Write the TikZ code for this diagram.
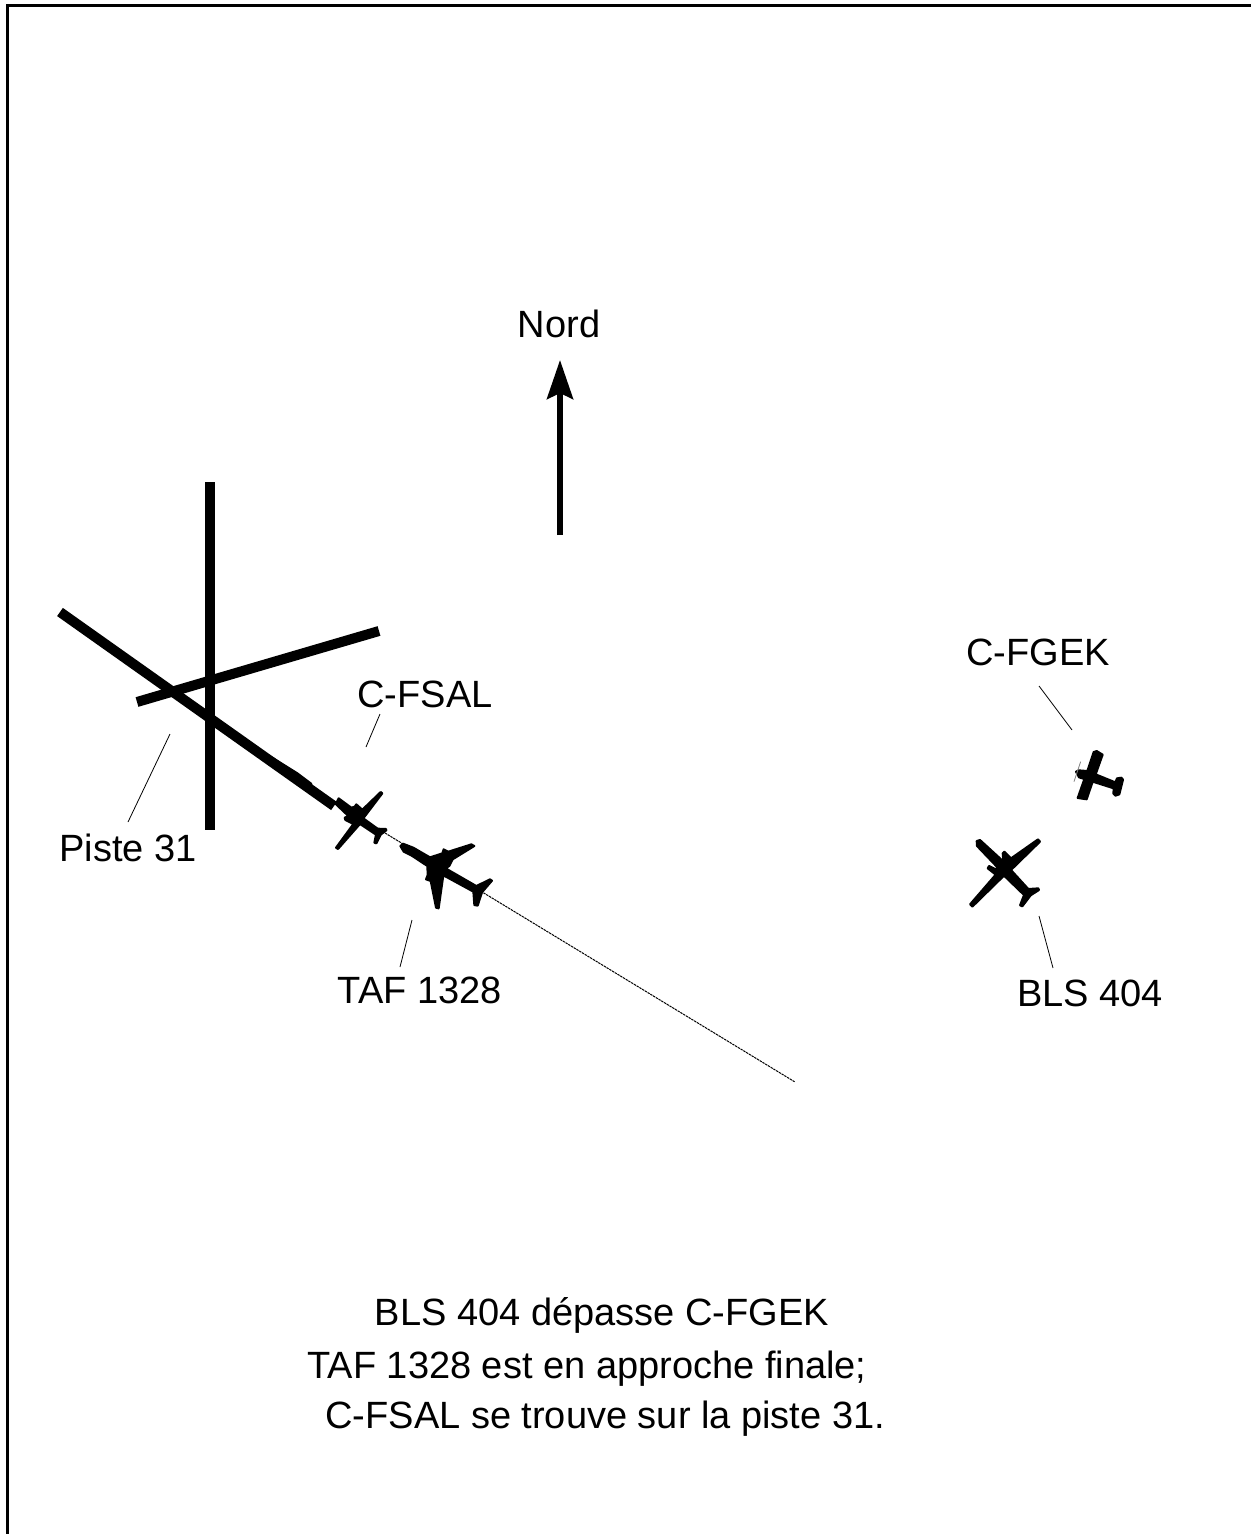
\documentclass[tikz,border=0pt]{standalone}
\usepackage{fontspec}
\setmainfont{Liberation Sans}
\usetikzlibrary{arrows.meta,positioning}
\tikzset{
  lbl/.style={font=\fontsize{19pt}{23pt}\selectfont, inner sep=0pt},
  runway/.style={line width=5pt},
  leader/.style={line width=0.4pt},
  track/.style={line width=0.5pt, dash pattern=on 1.2pt off 0.4pt},
  northarrow/.style={line width=3pt, -{Stealth[length=19.5pt,width=13pt,inset=3pt]}},
  plane/.style={fill=black, draw=black, line width=1pt, line join=round},
}
\begin{document}
\begin{tikzpicture}[x=0.5pt, y=-0.5pt]
  \useasboundingbox (0,0) rectangle (1251,1534);
  % frame
  \coordinate (fBL) at (7.5,1534);
  \coordinate (fTL) at (7.5,6);
  \coordinate (fTR) at (1251,6);
  \draw[line width=1.5pt] (fBL) -- (fTL) -- (fTR);

  % north
  \node[lbl] (nord) at (559,324) {Nord};
  \coordinate (nTail) at (560,535);
  \coordinate (nTip) at (560,360);
  \draw[northarrow] (nTail) -- (nTip);

  % runways
  \coordinate (rA1) at (210,482);
  \coordinate (rA2) at (210,830);
  \coordinate (rB1) at (137,702);
  \coordinate (rB2) at (379,631);
  \coordinate (rC1) at (60,612);
  \coordinate (rC2) at (334,806);
  \draw[runway] (rA1) -- (rA2);
  \draw[runway] (rB1) -- (rB2);
  \draw[runway] (rC1) -- (rC2);
  \fill (270,755) -- (298,772.5) -- (312,783) -- (313,788) -- (290,772) -- cycle;

  % track
  \coordinate (tStart) at (385,833);
  \coordinate (tEnd) at (795,1082);
  \draw[track] (tStart) -- (tEnd);

  % C-FSAL
  \begin{scope}[shift={(280,740)}, scale=1/3]
    \fill[plane] (167,192) -- (176,175) -- (214,203) -- (224,200) -- (229,193) -- (247,209)
      -- (302,156) -- (307,160) -- (250,235) -- (293,266) -- (318,267) -- (319,271)
      -- (302,284) -- (289,310) -- (283,308) -- (288,284) -- (240,252) -- (174,327)
      -- (168,323) -- (220,252) -- (196,240) -- (194,233) -- (200,230) -- (206,229) -- cycle;
  \end{scope}

  % TAF 1328
  \begin{scope}[shift={(280,740)}, scale=1/3]
    \fill[plane] (361,318) -- (369,311) -- (400,323) -- (450,352) -- (487,340) -- (491,328)
      -- (505,335) -- (574,313) -- (583,318) -- (518,358) -- (508,378) -- (497,385)
      -- (589,438) -- (630,418) -- (636,422) -- (606,457) -- (593,497) -- (583,495)
      -- (580,455) -- (490,406) -- (476,505) -- (468,503) -- (452,423) -- (438,418)
      -- (443,405) -- (442,378) -- (395,347) -- (371,335) -- cycle;
  \end{scope}

  % C-FGEK
  \begin{scope}[shift={(950,720)}, scale=1/3]
    \fill[plane] (431,96) -- (440,93) -- (458,104) -- (437,163) -- (496,187) -- (501,175)
      -- (514,173) -- (519,179) -- (508,223) -- (496,227) -- (490,221) -- (491,205)
      -- (428,185) -- (410,238) -- (383,234) -- (403,177) -- (387,172) -- (378,155)
      -- (386,151) -- (412,153) -- cycle;
    \draw[leader, gray] (392,125) -- (372,185);
  \end{scope}

  % BLS 404
  \begin{scope}[shift={(950,720)}, scale=1/3]
    \fill[plane] (90,360) -- (160,424) -- (158,400) -- (163,395) -- (183,415) -- (264,358)
      -- (270,365) -- (183,450) -- (235,507) -- (265,505) -- (267,510) -- (242,526)
      -- (217,559) -- (210,556) -- (222,525) -- (162,467) -- (67,560) -- (60,553)
      -- (137,464) -- (113,445) -- (117,438) -- (138,448) -- (144,444) -- (81,378) -- (80,363) -- cycle;
  \end{scope}

  % labels
  \node[lbl] (piste) at (128,848) {Piste 31};
  \node[lbl] (fsal) at (425,694) {C-FSAL};
  \node[lbl] (taf) at (420,990) {TAF 1328};
  \node[lbl] (fgek) at (1038,652) {C-FGEK};
  \node[lbl] (bls) at (1090,993) {BLS 404};

  % leaders
  \coordinate (lPiste) at (170,734);
  \coordinate (lPisteE) at (128,822);
  \coordinate (lFsal) at (380,714);
  \coordinate (lFsalE) at (366,747);
  \coordinate (lTaf) at (412,920);
  \coordinate (lTafE) at (400,967);
  \coordinate (lFgek) at (1039,686);
  \coordinate (lFgekE) at (1072,730);
  \coordinate (lBls) at (1039,916);
  \coordinate (lBlsE) at (1053,968);
  \draw[leader] (lPiste) -- (lPisteE);
  \draw[leader] (lFsal) -- (lFsalE);
  \draw[leader] (lTaf) -- (lTafE);
  \draw[leader] (lFgek) -- (lFgekE);
  \draw[leader] (lBls) -- (lBlsE);

  % caption
  \node[lbl] (capA) at (602,1315) {BLS 404 dépasse C-FGEK};
  \node[lbl, anchor=west] (capB) at (307,1369) {TAF 1328 est en approche finale;};
  \node[lbl, anchor=west] (capC) at (325,1419) {C-FSAL se trouve sur la piste 31.};
\end{tikzpicture}
\end{document}
